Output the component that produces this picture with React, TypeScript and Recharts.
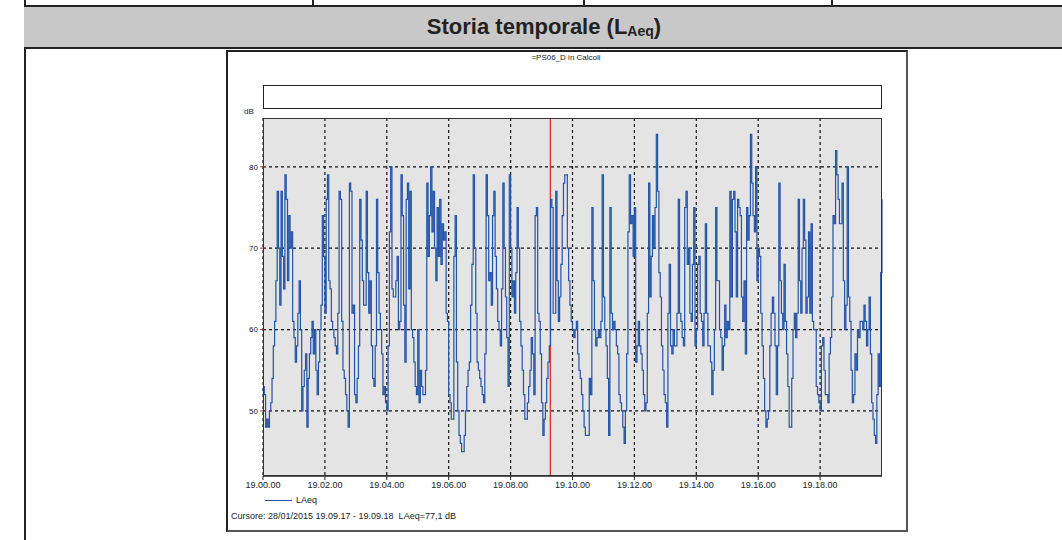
import React from "react";
import { LineChart, Line, XAxis, YAxis, CartesianGrid, ReferenceLine } from "recharts";

// LAeq samples every 2.5 s, one array per minute (19.00 -> 19.19)
const min00 = [53, 52, 48, 49, 48, 50, 51, 54, 58, 61, 66, 77, 70, 63, 77, 69, 65, 79, 76, 66, 74, 70, 72, 61];
const min01 = [59, 56, 58, 62, 66, 60, 50, 53, 55, 57, 48, 54, 57, 59, 61, 57, 60, 55, 52, 56, 60, 63, 74, 69];
const min02 = [62, 76, 79, 66, 65, 61, 60, 59, 58, 57, 62, 77, 76, 61, 55, 54, 52, 50, 48, 78, 77, 62, 63, 52];
const min03 = [51, 54, 58, 76, 71, 66, 63, 63, 77, 67, 62, 66, 58, 54, 53, 58, 76, 67, 62, 60, 57, 52, 53, 51];
const min04 = [50, 58, 72, 80, 65, 64, 64, 66, 69, 60, 61, 79, 74, 63, 56, 76, 78, 65, 77, 60, 59, 56, 53, 52];
const min05 = [60, 51, 55, 53, 52, 52, 55, 78, 69, 74, 80, 72, 77, 70, 66, 75, 69, 76, 68, 73, 71, 72, 62, 61];
const min06 = [52, 51, 49, 49, 69, 74, 56, 50, 47, 46, 45, 45, 47, 50, 53, 55, 56, 63, 68, 79, 70, 62, 56, 55];
const min07 = [54, 53, 52, 51, 57, 79, 74, 66, 67, 63, 74, 77, 69, 65, 61, 60, 58, 65, 78, 70, 64, 59, 53, 79];
const min08 = [70, 64, 66, 62, 67, 75, 70, 61, 58, 55, 52, 49, 49, 51, 53, 55, 59, 57, 52, 74, 75, 62, 61, 57];
const min09 = [51, 47, 49, 51, 54, 56, 58, 76, 75, 62, 62, 77, 66, 61, 64, 68, 74, 78, 79, 79, 70, 66, 63, 61];
const min10 = [60, 59, 60, 61, 57, 55, 54, 52, 50, 48, 47, 47, 47, 54, 52, 75, 66, 60, 58, 59, 60, 59, 61, 79];
const min11 = [64, 60, 58, 54, 47, 75, 62, 60, 61, 60, 58, 57, 52, 51, 50, 48, 46, 50, 57, 72, 79, 73, 74, 69];
const min12 = [75, 56, 58, 61, 58, 57, 55, 52, 50, 51, 62, 78, 64, 69, 74, 70, 75, 84, 77, 67, 64, 58, 55, 52];
const min13 = [51, 48, 62, 68, 58, 57, 60, 58, 58, 62, 76, 62, 61, 59, 58, 75, 77, 68, 70, 62, 61, 68, 75, 58];
const min14 = [60, 68, 69, 62, 61, 58, 62, 73, 62, 58, 58, 56, 52, 55, 60, 75, 66, 66, 60, 59, 55, 58, 63, 59];
const min15 = [61, 60, 77, 64, 76, 77, 72, 64, 76, 75, 74, 64, 61, 66, 57, 75, 71, 74, 84, 78, 74, 72, 80, 66];
const min16 = [70, 69, 62, 58, 54, 50, 48, 49, 50, 58, 62, 64, 62, 58, 52, 58, 78, 66, 62, 60, 68, 61, 57, 53];
const min17 = [48, 48, 54, 60, 62, 59, 62, 76, 66, 62, 70, 76, 71, 62, 64, 72, 62, 73, 61, 60, 60, 53, 52, 51];
const min18 = [50, 58, 59, 55, 52, 52, 51, 57, 59, 64, 74, 73, 82, 79, 76, 73, 73, 78, 66, 60, 63, 80, 64, 61];
const min19 = [55, 51, 52, 57, 55, 60, 59, 61, 61, 60, 63, 61, 58, 60, 64, 57, 51, 49, 47, 46, 52, 57, 53, 67];
const lastValue = [76];

const stepSeconds = 2.5;
const xTicks = [0, 120, 240, 360, 480, 600, 720, 840, 960, 1080];
const yTicks = [50, 60, 70, 80];
const cursorSecond = 557;

const values = [
  ...min00, ...min01, ...min02, ...min03, ...min04,
  ...min05, ...min06, ...min07, ...min08, ...min09,
  ...min10, ...min11, ...min12, ...min13, ...min14,
  ...min15, ...min16, ...min17, ...min18, ...min19,
  ...lastValue,
];
const data = values.map((v, i) => ({ t: i * stepSeconds, laeq: v }));

const pad = (n: number) => String(n).padStart(2, "0");
const fmtTime = (s: number) => `19.${pad(Math.floor(s / 60))}.${pad(s % 60)}`;

const small = "'Liberation Sans', Arial, sans-serif";

export default function App() {
  return (
    <div style={{ position: "absolute", left: 0, top: 0, width: 1062, height: 540, background: "#fff", overflow: "hidden" }}>
      {/* table row above */}
      {[312, 583, 831].map((x) => (
        <div key={x} style={{ position: "absolute", left: x, top: 0, width: 2, height: 6, background: "#222" }} />
      ))}
      <div style={{ position: "absolute", left: 24, top: 0, width: 2, height: 540, background: "#222" }} />
      <div
        style={{
          position: "absolute", left: 24, top: 5, width: 1040, height: 40,
          background: "#c8c8c8", borderTop: "2px solid #222", borderBottom: "2px solid #222",
          display: "flex", alignItems: "center", justifyContent: "center",
          fontFamily: "'Liberation Sans Narrow', 'Arial Narrow', 'Liberation Sans', sans-serif",
          fontWeight: "bold", fontSize: 22, color: "#222",
        }}
      >
        Storia temporale (L<span style={{ fontSize: 14, position: "relative", top: 4 }}>Aeq</span>)
      </div>

      {/* chart frame */}
      <div style={{ position: "absolute", left: 226, top: 50, width: 678, height: 478, border: "2px solid #222", borderRight: "2px solid #555", borderBottom: "2px solid #555" }} />
      <div style={{ position: "absolute", left: 226, top: 53, width: 680, textAlign: "center", fontFamily: small, fontSize: 8, color: "#222" }}>
        =PS06_D in Calcoli
      </div>
      <div style={{ position: "absolute", left: 263, top: 85, width: 617, height: 22, border: "1px solid #222" }} />
      <div style={{ position: "absolute", left: 244, top: 107, fontFamily: small, fontSize: 8, color: "#222" }}>dB</div>

      <div style={{ position: "absolute", left: 226, top: 50 }}>
        <LineChart width={680} height={480} data={data} margin={{ top: 68, right: 24, bottom: 34, left: 17 }}>
          <CartesianGrid
            fill="#e4e4e4"
            stroke="#111"
            strokeDasharray="3 3"
            strokeWidth={1.2}
            horizontalValues={yTicks}
            verticalValues={xTicks}
          />
          <XAxis
            dataKey="t"
            type="number"
            domain={[0, 1200]}
            ticks={xTicks}
            tickFormatter={fmtTime}
            height={20}
            tickSize={4}
            tick={{ fill: "#222", fontSize: 9, fontFamily: small }}
            axisLine={{ stroke: "#222", strokeWidth: 1.5 }}
            tickLine={{ stroke: "#222" }}
          />
          <YAxis
            type="number"
            domain={[42, 86]}
            ticks={yTicks}
            width={20}
            tickSize={3}
            tick={{ fill: "#222", fontSize: 8, fontFamily: small }}
            axisLine={false}
            tickLine={{ stroke: "#c0392b" }}
          />
          <ReferenceLine x={cursorSecond} stroke="#e02020" strokeWidth={1.2} />
          <Line
            type="stepAfter"
            dataKey="laeq"
            stroke="#2354a6"
            strokeWidth={1.2}
            dot={false}
            isAnimationActive={false}
          />
        </LineChart>
      </div>
      <div style={{ position: "absolute", left: 263, top: 118, width: 617, height: 356, border: "1.5px solid #333", boxSizing: "content-box", pointerEvents: "none" }} />

      {/* legend + cursor readout */}
      <div style={{ position: "absolute", left: 265, top: 500, width: 27, height: 1, background: "#2354a6" }} />
      <div style={{ position: "absolute", left: 296, top: 495, fontFamily: small, fontSize: 9, color: "#222" }}>LAeq</div>
      <div style={{ position: "absolute", left: 231, top: 511, fontFamily: small, fontSize: 9, color: "#222" }}>
        Cursore: 28/01/2015 19.09.17 - 19.09.18&nbsp; LAeq=77,1 dB
      </div>
    </div>
  );
}
